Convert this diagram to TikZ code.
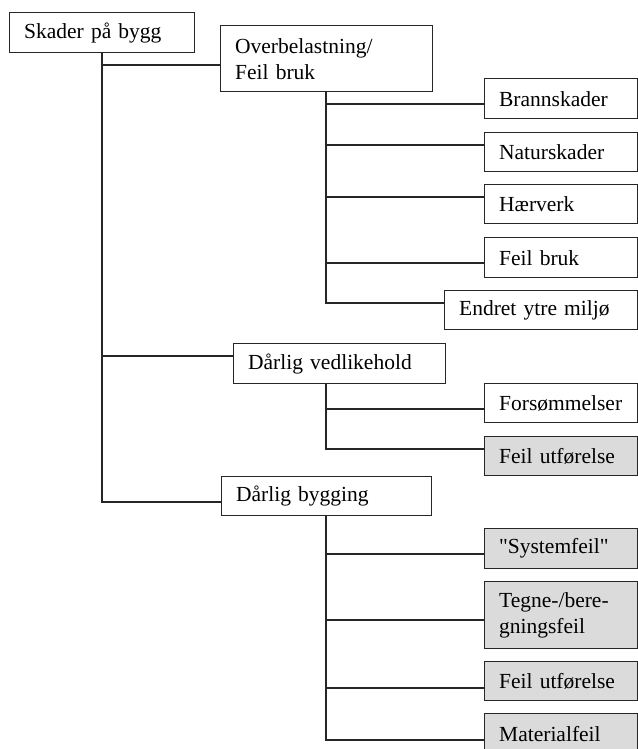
\documentclass[tikz,border=0pt]{standalone}
\usepackage{fontspec}
\setmainfont{Liberation Serif}
\begin{document}
\begin{tikzpicture}[x=1bp,y=-1bp,
  every node/.style={font=\fontsize{21.5bp}{26bp}\selectfont},
  box/.style={draw=black!85, line width=1.3bp, fill=white, anchor=north west,
    inner xsep=14.5bp, inner ysep=0pt, align=left},
  grey/.style={box, fill=black!14},
  link/.style={draw=black!85, line width=1.3bp}]
\useasboundingbox (0,0) rectangle (638,749);
\clip (0,0) rectangle (638,749);

% top level
\node[box, minimum width=185bp, minimum height=40bp, text width=156bp] (root) at (9,12) {Skader på bygg};

% second level
\node[box, minimum width=212bp, minimum height=66bp, text width=183bp] (ob) at (220,25) {Overbelastning/\\Feil bruk};
\node[box, minimum width=212bp, minimum height=40bp, text width=183bp] (dv) at (233,343) {Dårlig vedlikehold};
\node[box, minimum width=210bp, minimum height=39bp, text width=181bp] (db) at (221,476) {Dårlig bygging};

% causes of overloading / wrong use
\node[box, minimum width=153bp, minimum height=40bp, text width=124bp] (brann) at (484,78) {Brannskader};
\node[box, minimum width=153bp, minimum height=39bp, text width=124bp] (natur) at (484,132) {Naturskader};
\node[box, minimum width=153bp, minimum height=39bp, text width=124bp] (haer) at (484,184) {Hærverk};
\node[box, minimum width=153bp, minimum height=40bp, text width=124bp] (fbruk) at (484,237) {Feil bruk};
\node[box, minimum width=193bp, minimum height=39bp, text width=164bp] (endret) at (444,290) {Endret ytre miljø};

% poor maintenance
\node[box, minimum width=153bp, minimum height=39bp, text width=124bp] (fors) at (484,383) {Forsømmelser};
\node[grey, minimum width=153bp, minimum height=39bp, text width=124bp] (fu1) at (484,436) {Feil utførelse};

% poor construction
\node[grey, minimum width=153bp, minimum height=40bp, text width=124bp] (sys) at (484,528) {\textquotedbl Systemfeil\textquotedbl};
\node[grey, minimum width=153bp, minimum height=67bp, text width=124bp] (tegne) at (484,581) {Tegne-/bere-\\gningsfeil};
\node[grey, minimum width=153bp, minimum height=39bp, text width=124bp] (fu2) at (484,661) {Feil utførelse};
\node[grey, minimum width=153bp, minimum height=40bp, text width=124bp] (mat) at (484,713) {Materialfeil};

% branch points
\coordinate (r1) at (102,65);
\coordinate (r2) at (102,356);
\coordinate (r3) at (102,502);
\coordinate (a1) at (326,104);
\coordinate (a2) at (326,145);
\coordinate (a3) at (326,197);
\coordinate (a4) at (326,263);
\coordinate (a5) at (326,303);
\coordinate (b1) at (326,409);
\coordinate (b2) at (326,449);
\coordinate (c1) at (326,554);
\coordinate (c2) at (326,620);
\coordinate (c3) at (326,688);
\coordinate (c4) at (326,740);

% trunk from the root
\draw[link] (r1 |- root.south) -- (r3) -- (r3 -| db.west);
\draw[link] (r1) -- (r1 -| ob.west);
\draw[link] (r2) -- (r2 -| dv.west);

% overloading branch
\draw[link] (a1 |- ob.south) -- (a5) -- (a5 -| endret.west);
\draw[link] (a1) -- (a1 -| brann.west);
\draw[link] (a2) -- (a2 -| natur.west);
\draw[link] (a3) -- (a3 -| haer.west);
\draw[link] (a4) -- (a4 -| fbruk.west);

% maintenance branch
\draw[link] (b1 |- dv.south) -- (b2) -- (b2 -| fu1.west);
\draw[link] (b1) -- (b1 -| fors.west);

% construction branch
\draw[link] (c1 |- db.south) -- (c4) -- (c4 -| mat.west);
\draw[link] (c1) -- (c1 -| sys.west);
\draw[link] (c2) -- (c2 -| tegne.west);
\draw[link] (c3) -- (c3 -| fu2.west);
\end{tikzpicture}
\end{document}
